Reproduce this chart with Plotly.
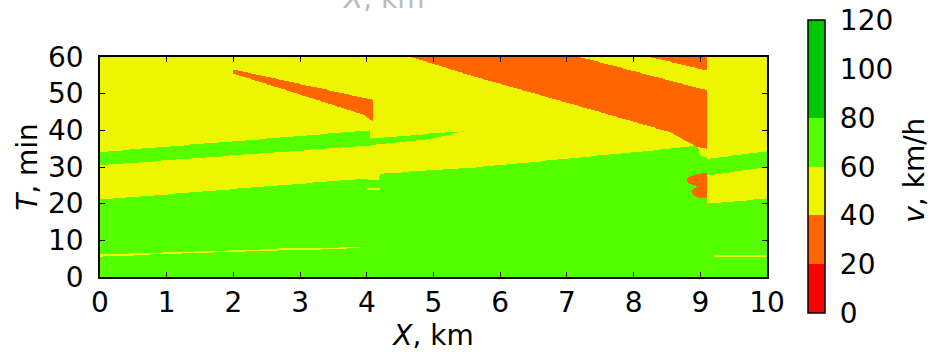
import numpy as np
import plotly.graph_objects as go

# ---------------- data ----------------
x_tick_vals = list(range(0, 11))
t_tick_vals = list(range(0, 61, 10))
cbar_tick_vals = [0, 20, 40, 60, 80, 100, 120]
speed_edges = [0, 20, 40, 60, 80, 120]
speed_colors = ["#ff0000", "#ff6600", "#eef500", "#55ff00", "#00c800"]

background_speed = 50  # km/h (yellow band)

# space-time regions (X km, T min) and the speed inside them, painted in order
green_low = [(0, 0), (10, 0), (10, 21.4), (9.1, 20.0), (9.1, 32.6), (9.0, 33.1),
             (8.97, 35.0), (8.95, 35.9), (8.55, 35.0), (5.7, 30.0), (4.2, 28.2),
             (4.18, 26.5), (4.03, 26.5), (4.0, 26.9), (0, 21.1)]
green_right_band = [(9.1, 27.7), (10, 30.0), (10, 34.3), (9.1, 32.2)]
green_left_band = [(0, 30.5), (4.05, 35.9), (4.95, 37.7), (5.45, 39.7), (4.95, 39.1),
                   (4.05, 37.7), (4.05, 40.0), (0, 34.1)]
orange_notch = [(9.1, 28.4), (8.95, 28.2), (8.8, 27.0), (8.8, 25.8), (8.96, 24.7),
                (8.85, 23.5), (8.9, 22.3), (9.0, 21.4), (9.1, 21.4)]
orange_wedge = [(2.0, 56.6), (4.1, 48.3), (4.1, 42.4), (3.95, 44.3), (2.0, 55.5)]
orange_big = [(4.67, 60), (7.2, 60), (9.1, 50.9), (9.1, 35.0), (8.95, 35.5),
              (8.55, 39.5), (7.05, 47.3), (5.55, 55.0)]
orange_top_strip = [(8.25, 60), (9.1, 60), (9.1, 56.3)]
yellow_line_left = [(0, 5.6), (2.85, 7.4), (3.9, 7.8), (3.9, 8.1), (2.85, 7.85), (0, 6.1)]
yellow_line_right = [(9.2, 5.5), (10, 5.5), (10, 5.95), (9.2, 5.95)]
yellow_dash = [(4.0, 23.7), (4.2, 23.7), (4.2, 24.1), (4.0, 24.1)]

regions = [
    (70, green_low), (70, green_right_band), (70, green_left_band),
    (30, orange_notch), (30, orange_wedge), (30, orange_big), (30, orange_top_strip),
    (50, yellow_line_left), (50, yellow_line_right), (50, yellow_dash),
]

# ---------------- grid ----------------
nx, nt = 667, 400
xs = (np.arange(nx) + 0.5) * 10.0 / nx
ts = (np.arange(nt) + 0.5) * 60.0 / nt
PX, PT = np.meshgrid(xs, ts)


def inside(poly):
    res = np.zeros(PX.shape, dtype=bool)
    n = len(poly)
    j = n - 1
    for i in range(n):
        xi, yi = poly[i]
        xj, yj = poly[j]
        if yi != yj:
            cond = ((yi > PT) != (yj > PT)) & (PX < (xj - xi) * (PT - yi) / (yj - yi) + xi)
            res ^= cond
        j = i
    return res


Z = np.full(PX.shape, background_speed, dtype=int)
for spd, poly in regions:
    Z[inside(poly)] = spd

zmin, zmax = speed_edges[0], speed_edges[-1]
cscale = []
for k, col in enumerate(speed_colors):
    a = (speed_edges[k] - zmin) / (zmax - zmin)
    b = (speed_edges[k + 1] - zmin) / (zmax - zmin)
    cscale += [[a, col], [b, col]]

FONT = "DejaVu Sans"
FS = 28
fig = go.Figure(go.Heatmap(
    x=xs, y=ts, z=Z.tolist(), zmin=zmin, zmax=zmax, colorscale=cscale, zsmooth=False,
    colorbar=dict(
        x=1.062, xanchor="left", xpad=0, y=0.501, yanchor="middle", ypad=0,
        len=1.332, lenmode="fraction",
        thickness=17, outlinewidth=1.5, outlinecolor="black",
        tickvals=cbar_tick_vals, ticks="outside", ticklen=9, tickcolor="rgba(0,0,0,0)",
        tickfont=dict(family=FONT, size=FS, color="black"),
    ),
    hoverinfo="skip",
))

axis_common = dict(
    showline=True, linecolor="black", linewidth=1.5, mirror="ticks", automargin=False,
    ticks="inside", ticklen=5, tickcolor="black", showgrid=False, zeroline=False,
    tickfont=dict(family=FONT, size=FS, color="black"),
)
fig.update_xaxes(range=[0, 10], tickvals=x_tick_vals, title=dict(
    text="<i>X</i>, km", font=dict(family=FONT, size=FS, color="black"), standoff=0),
    **axis_common)
fig.update_yaxes(range=[0, 60], tickvals=t_tick_vals, ticklabelstandoff=9, title=dict(
    text="<i>T</i>, min", font=dict(family=FONT, size=FS, color="black"), standoff=2),
    **axis_common)

# colorbar title, placed like the reference
fig.add_annotation(text="<i>v</i>, km/h", xref="paper", yref="paper", x=1.221, y=0.485,
                   textangle=-90, showarrow=False, xanchor="center", yanchor="middle",
                   font=dict(family=FONT, size=FS, color="black"))
# partly visible label at the very top edge (cut off in the reference too)
fig.add_annotation(text="<i>X</i>, km", xref="paper", yref="paper", x=0.425, y=1.0,
                   yshift=77, showarrow=False, font=dict(family=FONT, size=FS, color="#bbbbbb"))

fig.update_layout(
    width=934, height=358, margin=dict(l=100, r=167.3, t=56.7, b=81.3, autoexpand=False),
    paper_bgcolor="white", plot_bgcolor="white", font=dict(family=FONT),
)
fig.write_html("out.html", config={"displayModeBar": False},
               post_script="document.body.style.margin='0px';")
